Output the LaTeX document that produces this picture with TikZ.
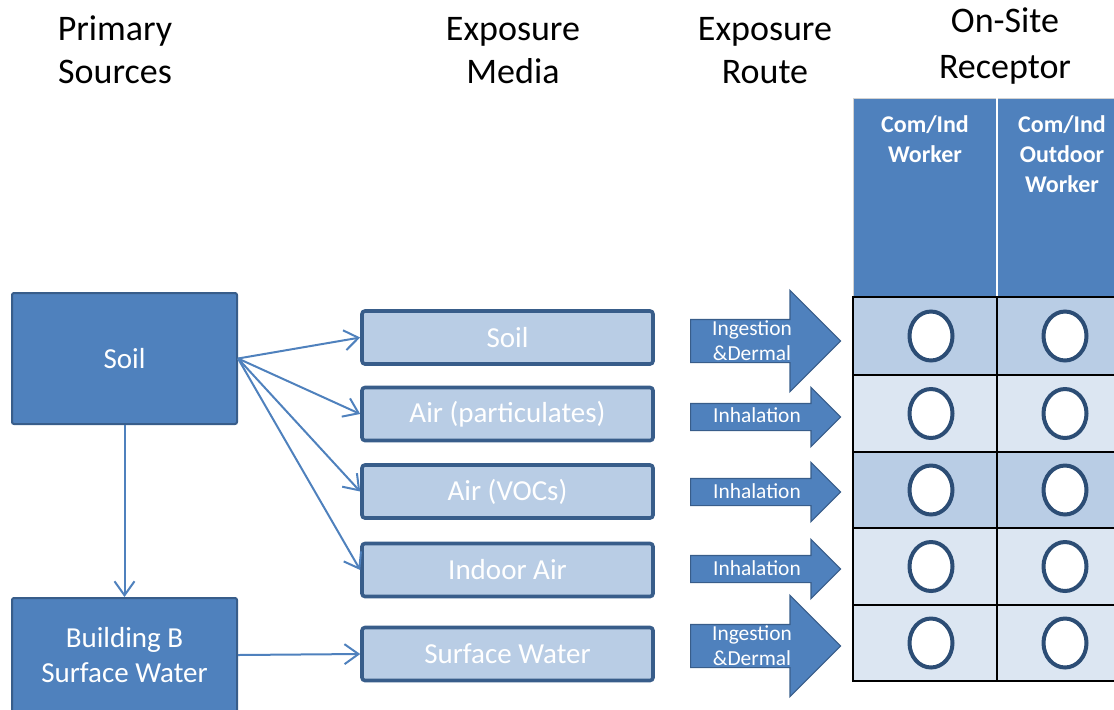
\documentclass[tikz,border=0pt]{standalone}
\usepackage{fontspec}
\setmainfont{Carlito}
\usetikzlibrary{arrows.meta,positioning,shapes.geometric,shapes.arrows}
\definecolor{boxdark}{RGB}{79,129,189}
\definecolor{boxedge}{RGB}{56,93,138}
\definecolor{boxlight}{RGB}{185,205,229}
\definecolor{rowlight}{RGB}{220,230,242}
\definecolor{ringblue}{RGB}{44,77,117}

\begin{document}
\begin{tikzpicture}[x=0.5pt,y=-0.5pt,
   hdr/.style={align=center,font=\fontsize{18}{21.5}\selectfont,inner sep=0pt},
   srcbox/.style={draw=boxedge,fill=boxdark,line width=1pt,rounded corners=1pt,
               minimum width=112.5pt,text=white,align=center,
               font=\fontsize{14.5}{17.5}\selectfont},
   mediabox/.style={draw=boxedge,fill=boxlight,line width=1.8pt,rounded corners=1.5pt,
               minimum width=145.5pt,minimum height=26.5pt,text=white,
               font=\fontsize{14.5}{17}\selectfont},
   routearrow/.style={single arrow,draw=boxedge,fill=boxdark,line width=0.6pt,
               minimum height=75pt,inner xsep=0pt,anchor=west},
   routetext/.style={text=white,align=center,font=\fontsize{10.7}{12.5}\selectfont,inner sep=0pt},
   conn/.style={draw=boxdark,line width=1pt,-{Straight Barb[length=7pt,width=10pt]}},
   rechead/.style={text=white,align=center,font=\bfseries\fontsize{12}{15}\selectfont,
               inner sep=0pt,anchor=north},
   recring/.style={ellipse,draw=ringblue,fill=white,line width=2pt,
               minimum width=21.5pt,minimum height=24.5pt,inner sep=0pt}]
  \useasboundingbox (0,0) rectangle (1114,709);
  \clip (0,0) rectangle (1114,709);

  % column headings
  \node[hdr] (hsrc)   at (115,50)  {Primary\\Sources};
  \node[hdr] (hmedia) at (513,51)  {Exposure\\Media};
  \node[hdr] (hroute) at (765,51)  {Exposure\\Route};
  \node[hdr,font=\fontsize{18}{23}\selectfont] (hrec) at (1005,46) {On-Site\\Receptor};

  % primary sources
  \node[srcbox,minimum height=65.5pt] (soil) at (124.5,358.5) {Soil};
  \node[srcbox,minimum height=57pt]   (bldg) at (124.5,655) {Building B\\Surface Water};

  % exposure media
  \node[mediabox] (m1) at (507.5,337.5) {Soil};
  \node[mediabox] (m2) at (507.5,414)   {Air (particulates)};
  \node[mediabox] (m3) at (507.5,491.5) {Air (VOCs)};
  \node[mediabox] (m4) at (507.5,570)   {Indoor Air};
  \node[mediabox] (m5) at (507.5,654)   {Surface Water};

  \foreach \m in {m1,m2,m3,m4}
    \draw[conn] (soil.east) -- (\m.west);
  \draw[conn] (soil.south) -- (bldg.north);
  \draw[conn] (bldg.east) -- (m5.west);

  % exposure routes
  \node[routearrow,inner ysep=10.5pt,single arrow head extend=14.5pt] (r1) at (690,341) {};
  \node[routearrow,inner ysep=6.5pt,single arrow head extend=8pt]     (r2) at (690,417) {};
  \node[routearrow,inner ysep=6.5pt,single arrow head extend=8pt]     (r3) at (690,492) {};
  \node[routearrow,inner ysep=6.5pt,single arrow head extend=8pt]     (r4) at (690,569) {};
  \node[routearrow,inner ysep=10.5pt,single arrow head extend=14.5pt] (r5) at (690,646) {};
  \node[routetext] (t1) at (752,340.5) {Ingestion\\\&Dermal};
  \node[routetext] (t2) at (757,415)   {Inhalation};
  \node[routetext] (t3) at (757,491)   {Inhalation};
  \node[routetext] (t4) at (757,568)   {Inhalation};
  \node[routetext] (t5) at (752,646)   {Ingestion\\\&Dermal};

  % receptor table
  \fill[boxdark] (853,98) rectangle (1140,297);
  \draw[gray!35,line width=0.4pt] (853,98) rectangle (1140,297);
  \draw[white,line width=1pt] (997,98) -- (997,297);
  \node[rechead] (rw) at (925,115)  {Com/Ind\\Worker};
  \node[rechead] (ro) at (1062,115) {Com/Ind\\Outdoor\\Worker};
  \foreach \top/\bot/\col [count=\i] in {297/375/boxlight,375/452/rowlight,
      452/528/boxlight,528/605/rowlight,605/681/rowlight}{
    \fill[\col] (853,\top) rectangle (1140,\bot);
    \draw[line width=1pt] (853,\top) rectangle (1140,\bot);
    \node[recring] (w\i) at (931,{(\top+\bot)/2}) {};
    \node[recring] (o\i) at (1065,{(\top+\bot)/2}) {};
  }
  \draw[line width=1pt] (997,297) -- (997,681);
\end{tikzpicture}
\end{document}
